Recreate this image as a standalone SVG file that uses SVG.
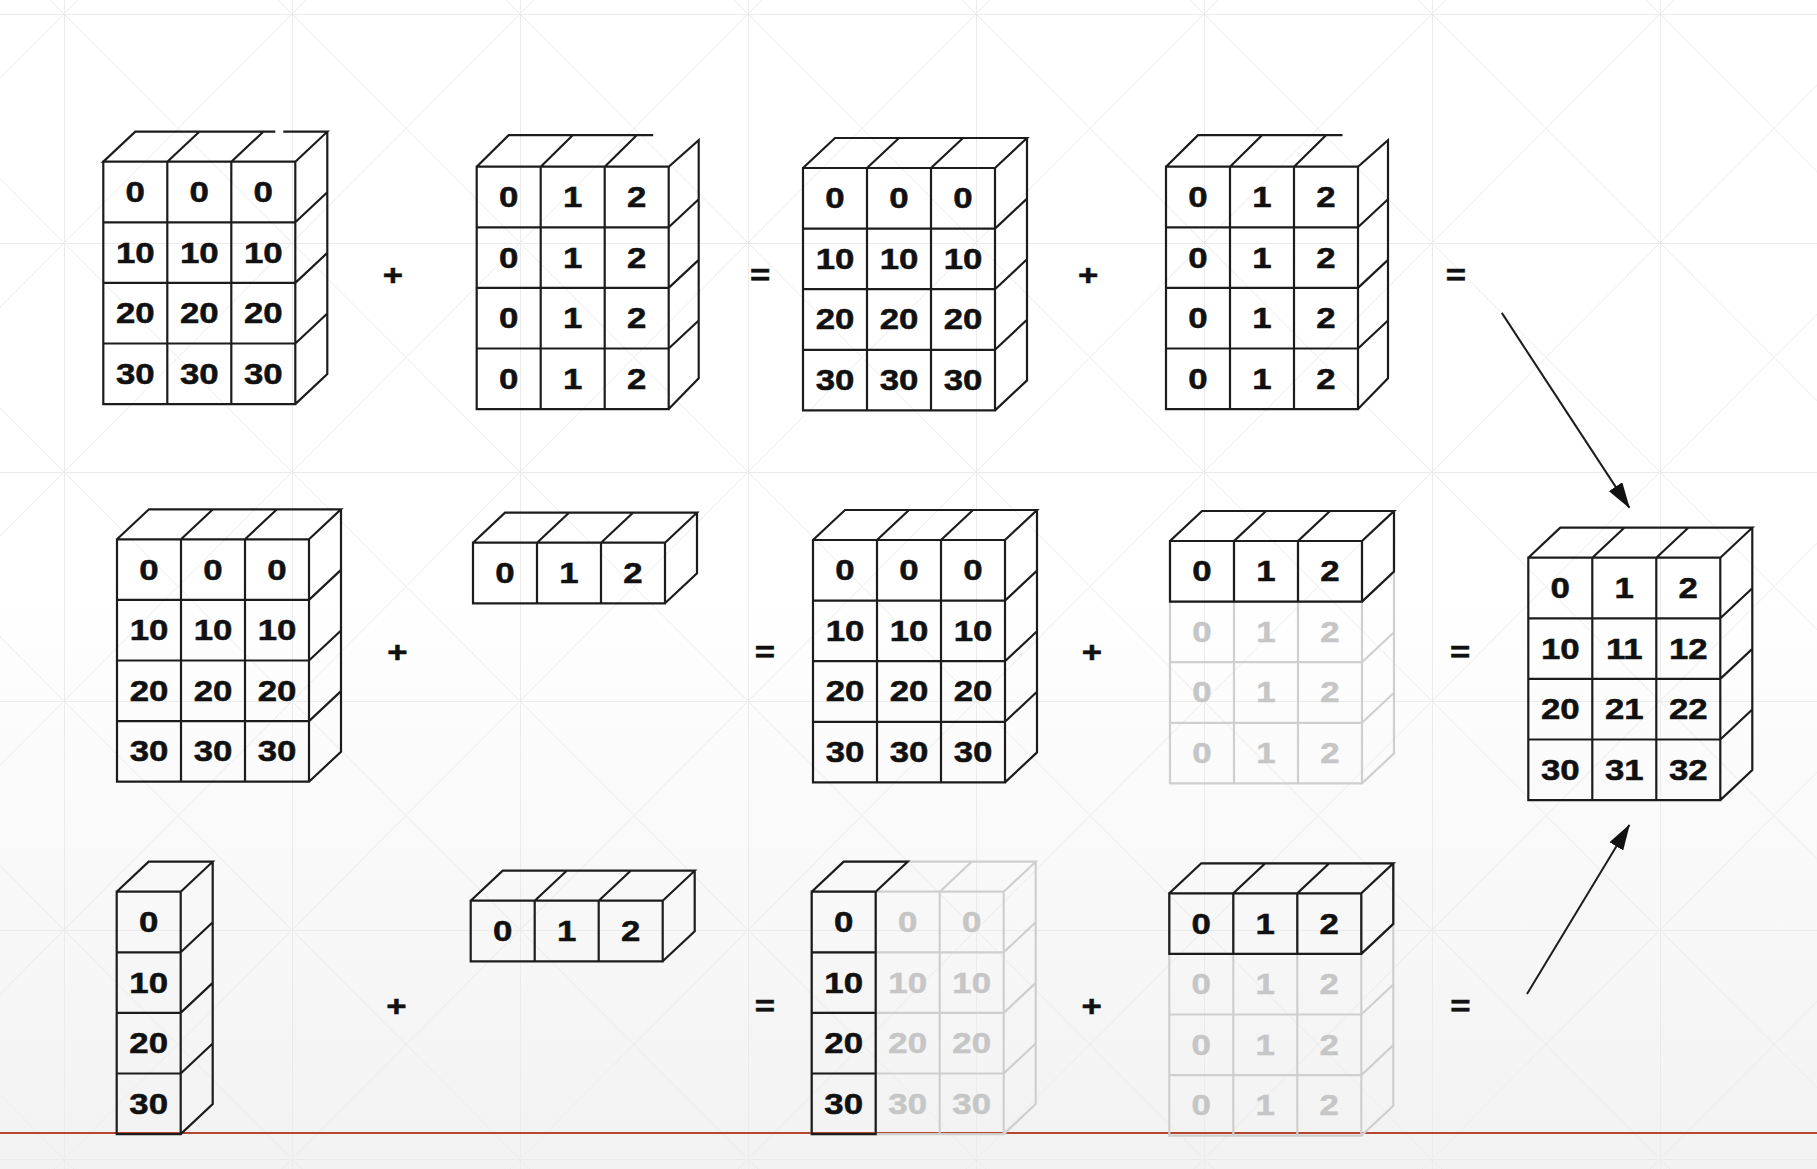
<svg xmlns="http://www.w3.org/2000/svg" xmlns:xlink="http://www.w3.org/1999/xlink" width="1817" height="1169" viewBox="0 0 1817 1169">
<style>
.d{font-family:"Liberation Sans",Arial,sans-serif;font-weight:bold;font-size:29px;text-anchor:middle;transform-box:fill-box;transform-origin:center;transform:scaleX(1.2);fill:#111;stroke:#111;stroke-width:0.5}
.f{fill:#c6c6c6;stroke:#c6c6c6}
.k{fill:none;stroke:#1c1c1c;stroke-width:2.2}
.g{fill:none;stroke:#cfcfcf;stroke-width:2.2}
.ar{fill:none;stroke:#1c1c1c;stroke-width:2}
</style>
<defs>
<linearGradient id="bg" x1="0" y1="0" x2="0" y2="1">
<stop offset="0" stop-color="#ffffff"/>
<stop offset="0.5" stop-color="#ffffff"/>
<stop offset="1" stop-color="#f2f2f2"/>
</linearGradient>
<pattern id="grid" x="64" y="14" width="228" height="229" patternUnits="userSpaceOnUse">
<path d="M0,0.5H228 M0.5,0V229 M0,0L228,229 M228,0L0,229" fill="none" stroke="#ebebeb" stroke-width="1"/>
</pattern>
<path id="F43" d="M0,0H192V242.4H0Z M64,0V242.4 M128,0V242.4 M0,60.6H192 M0,121.2H192 M0,181.8H192 M0,0L32,-30H224L192,0 M64,0L96,-30 M128,0L160,-30 M224,-30V212.4L192,242.4 M192,60.6L224,30.6 M192,121.2L224,91.2 M192,181.8L224,151.8"/>
<path id="F43a" d="M0,0H192V242.4H0Z M64,0V242.4 M128,0V242.4 M0,60.6H192 M0,121.2H192 M0,181.8H192 M192,0L0,0L32,-30H172 M180,-30H224L192,0 M64,0L96,-30 M128,0L160,-30 M224,-30V212.4L192,242.4 M192,60.6L224,30.6 M192,121.2L224,91.2 M192,181.8L224,151.8"/>
<path id="F43q" d="M0,0H192V242.4H0Z M64,0V242.4 M128,0V242.4 M0,60.6H192 M0,121.2H192 M0,181.8H192 M0,0L32,-31.5H176.5 M64,0L96,-31.5 M128,0L160,-31.5 M192,0L222,-26.5V211.6L192,242.4 M192,60.6L222,32.5 M192,121.2L222,93.2 M192,181.8L222,153.8"/>
<path id="F13" d="M0,0H192V60.6H0Z M64,0V60.6 M128,0V60.6 M0,0L32,-30H224L192,0 M64,0L96,-30 M128,0L160,-30 M224,-30V30.6L192,60.6"/>
<path id="F41" d="M0,0H64V242.4H0Z M0,60.6H64 M0,121.2H64 M0,181.8H64 M0,0L32,-30H96L64,0 M96,-30V212.4L64,242.4 M64,60.6L96,30.6 M64,121.2L96,91.2 M64,181.8L96,151.8"/>
<path id="F41c" d="M0,0H64V242.4H0Z M0,60.6H64 M0,121.2H64 M0,181.8H64 M0,0L32,-30H96L64,0"/>
<marker id="ah" viewBox="0 0 26 16" refX="25" refY="8" markerWidth="26" markerHeight="16" markerUnits="userSpaceOnUse" orient="auto">
<path d="M0,0L26,8L0,16Z" fill="#111"/>
</marker>
</defs>
<rect width="1817" height="1169" fill="url(#bg)"/>
<rect width="1817" height="1169" fill="url(#grid)"/>
<line x1="0" y1="1133" x2="1817" y2="1133" stroke="#b5472f" stroke-width="2.2"/>

<g id="A1" transform="translate(103.3,161.7)">
<use xlink:href="#F43a" class="k"/>
<text class="d" x="32" y="40.3">0</text><text class="d" x="96" y="40.3">0</text><text class="d" x="160" y="40.3">0</text>
<text class="d" x="32" y="100.9">10</text><text class="d" x="96" y="100.9">10</text><text class="d" x="160" y="100.9">10</text>
<text class="d" x="32" y="161.5">20</text><text class="d" x="96" y="161.5">20</text><text class="d" x="160" y="161.5">20</text>
<text class="d" x="32" y="222.1">30</text><text class="d" x="96" y="222.1">30</text><text class="d" x="160" y="222.1">30</text>
</g>
<g id="A2" transform="translate(476.7,166.7)">
<use xlink:href="#F43q" class="k"/>
<text class="d" x="32" y="40.3">0</text><text class="d" x="96" y="40.3">1</text><text class="d" x="160" y="40.3">2</text>
<text class="d" x="32" y="100.9">0</text><text class="d" x="96" y="100.9">1</text><text class="d" x="160" y="100.9">2</text>
<text class="d" x="32" y="161.5">0</text><text class="d" x="96" y="161.5">1</text><text class="d" x="160" y="161.5">2</text>
<text class="d" x="32" y="222.1">0</text><text class="d" x="96" y="222.1">1</text><text class="d" x="160" y="222.1">2</text>
</g>
<g id="A3" transform="translate(803,168)">
<use xlink:href="#F43" class="k"/>
<text class="d" x="32" y="40.3">0</text><text class="d" x="96" y="40.3">0</text><text class="d" x="160" y="40.3">0</text>
<text class="d" x="32" y="100.9">10</text><text class="d" x="96" y="100.9">10</text><text class="d" x="160" y="100.9">10</text>
<text class="d" x="32" y="161.5">20</text><text class="d" x="96" y="161.5">20</text><text class="d" x="160" y="161.5">20</text>
<text class="d" x="32" y="222.1">30</text><text class="d" x="96" y="222.1">30</text><text class="d" x="160" y="222.1">30</text>
</g>
<g id="A4" transform="translate(1166,166.7)">
<use xlink:href="#F43q" class="k"/>
<text class="d" x="32" y="40.3">0</text><text class="d" x="96" y="40.3">1</text><text class="d" x="160" y="40.3">2</text>
<text class="d" x="32" y="100.9">0</text><text class="d" x="96" y="100.9">1</text><text class="d" x="160" y="100.9">2</text>
<text class="d" x="32" y="161.5">0</text><text class="d" x="96" y="161.5">1</text><text class="d" x="160" y="161.5">2</text>
<text class="d" x="32" y="222.1">0</text><text class="d" x="96" y="222.1">1</text><text class="d" x="160" y="222.1">2</text>
</g>

<g id="B1" transform="translate(117,539.3)">
<use xlink:href="#F43" class="k"/>
<text class="d" x="32" y="40.3">0</text><text class="d" x="96" y="40.3">0</text><text class="d" x="160" y="40.3">0</text>
<text class="d" x="32" y="100.9">10</text><text class="d" x="96" y="100.9">10</text><text class="d" x="160" y="100.9">10</text>
<text class="d" x="32" y="161.5">20</text><text class="d" x="96" y="161.5">20</text><text class="d" x="160" y="161.5">20</text>
<text class="d" x="32" y="222.1">30</text><text class="d" x="96" y="222.1">30</text><text class="d" x="160" y="222.1">30</text>
</g>
<g id="B2" transform="translate(473,542.7)">
<use xlink:href="#F13" class="k"/>
<text class="d" x="32" y="40.3">0</text><text class="d" x="96" y="40.3">1</text><text class="d" x="160" y="40.3">2</text>
</g>
<g id="B3" transform="translate(813,540)">
<use xlink:href="#F43" class="k"/>
<text class="d" x="32" y="40.3">0</text><text class="d" x="96" y="40.3">0</text><text class="d" x="160" y="40.3">0</text>
<text class="d" x="32" y="100.9">10</text><text class="d" x="96" y="100.9">10</text><text class="d" x="160" y="100.9">10</text>
<text class="d" x="32" y="161.5">20</text><text class="d" x="96" y="161.5">20</text><text class="d" x="160" y="161.5">20</text>
<text class="d" x="32" y="222.1">30</text><text class="d" x="96" y="222.1">30</text><text class="d" x="160" y="222.1">30</text>
</g>
<g id="B4" transform="translate(1170,541)">
<use xlink:href="#F43" class="g"/>
<use xlink:href="#F13" class="k"/>
<text class="d" x="32" y="40.3">0</text><text class="d" x="96" y="40.3">1</text><text class="d" x="160" y="40.3">2</text>
<text class="d f" x="32" y="100.9">0</text><text class="d f" x="96" y="100.9">1</text><text class="d f" x="160" y="100.9">2</text>
<text class="d f" x="32" y="161.5">0</text><text class="d f" x="96" y="161.5">1</text><text class="d f" x="160" y="161.5">2</text>
<text class="d f" x="32" y="222.1">0</text><text class="d f" x="96" y="222.1">1</text><text class="d f" x="160" y="222.1">2</text>
</g>
<g id="R" transform="translate(1528.3,557.7)">
<use xlink:href="#F43" class="k"/>
<text class="d" x="32" y="40.3">0</text><text class="d" x="96" y="40.3">1</text><text class="d" x="160" y="40.3">2</text>
<text class="d" x="32" y="100.9">10</text><text class="d" x="96" y="100.9">11</text><text class="d" x="160" y="100.9">12</text>
<text class="d" x="32" y="161.5">20</text><text class="d" x="96" y="161.5">21</text><text class="d" x="160" y="161.5">22</text>
<text class="d" x="32" y="222.1">30</text><text class="d" x="96" y="222.1">31</text><text class="d" x="160" y="222.1">32</text>
</g>

<g id="C1" transform="translate(116.7,891.7)">
<use xlink:href="#F41" class="k"/>
<text class="d" x="32" y="40.3">0</text>
<text class="d" x="32" y="100.9">10</text>
<text class="d" x="32" y="161.5">20</text>
<text class="d" x="32" y="222.1">30</text>
</g>
<g id="C2" transform="translate(470.7,900.7)">
<use xlink:href="#F13" class="k"/>
<text class="d" x="32" y="40.3">0</text><text class="d" x="96" y="40.3">1</text><text class="d" x="160" y="40.3">2</text>
</g>
<g id="C3" transform="translate(811.7,891.7)">
<use xlink:href="#F43" class="g"/>
<use xlink:href="#F41c" class="k"/>
<text class="d" x="32" y="40.3">0</text><text class="d f" x="96" y="40.3">0</text><text class="d f" x="160" y="40.3">0</text>
<text class="d" x="32" y="100.9">10</text><text class="d f" x="96" y="100.9">10</text><text class="d f" x="160" y="100.9">10</text>
<text class="d" x="32" y="161.5">20</text><text class="d f" x="96" y="161.5">20</text><text class="d f" x="160" y="161.5">20</text>
<text class="d" x="32" y="222.1">30</text><text class="d f" x="96" y="222.1">30</text><text class="d f" x="160" y="222.1">30</text>
</g>
<g id="C4" transform="translate(1169.3,893.3)">
<use xlink:href="#F43" class="g"/>
<use xlink:href="#F13" class="k"/>
<text class="d" x="32" y="40.3">0</text><text class="d" x="96" y="40.3">1</text><text class="d" x="160" y="40.3">2</text>
<text class="d f" x="32" y="100.9">0</text><text class="d f" x="96" y="100.9">1</text><text class="d f" x="160" y="100.9">2</text>
<text class="d f" x="32" y="161.5">0</text><text class="d f" x="96" y="161.5">1</text><text class="d f" x="160" y="161.5">2</text>
<text class="d f" x="32" y="222.1">0</text><text class="d f" x="96" y="222.1">1</text><text class="d f" x="160" y="222.1">2</text>
</g>

<g id="operators">
<text class="d" x="392.8" y="285">+</text>
<text class="d" x="760.2" y="285">=</text>
<text class="d" x="1088.1" y="285">+</text>
<text class="d" x="1456" y="285">=</text>
<text class="d" x="397.5" y="662">+</text>
<text class="d" x="764.8" y="662">=</text>
<text class="d" x="1092" y="662">+</text>
<text class="d" x="1460.1" y="662">=</text>
<text class="d" x="396.3" y="1016">+</text>
<text class="d" x="764.8" y="1016">=</text>
<text class="d" x="1091.6" y="1016">+</text>
<text class="d" x="1460.5" y="1016">=</text>
</g>

<g id="connectors">
<line class="ar" x1="1501.8" y1="312.9" x2="1629.3" y2="507.6" marker-end="url(#ah)"/>
<line class="ar" x1="1527" y1="994" x2="1629.3" y2="825" marker-end="url(#ah)"/>
</g>
</svg>
